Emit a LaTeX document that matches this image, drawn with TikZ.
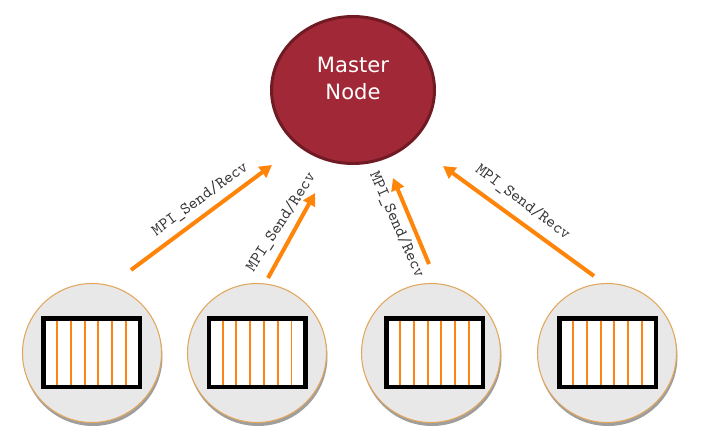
\documentclass[tikz,border=0pt]{standalone}
\usepackage{fontspec}
\setsansfont{DejaVu Sans}
\usetikzlibrary{arrows.meta,shapes.geometric,shadows,calc}
\definecolor{mn_red}{RGB}{161, 40, 54}
\definecolor{mn_dark}{RGB}{112, 26, 36}
\definecolor{wk_fill}{RGB}{232, 232, 232}
\definecolor{wk_edge}{RGB}{226, 166, 92}
\definecolor{msg_orange}{RGB}{255, 133, 10}
\definecolor{strp_orange}{RGB}{250, 132, 20}
\tikzstyle{master}=[ellipse,fill=mn_red,draw=mn_dark,line width=1.7pt,
  minimum width=3.26cm,minimum height=2.94cm,inner sep=0pt]
\tikzstyle{mastertext}=[align=center,text=white,inner sep=0pt,
  font=\sffamily\fontsize{12}{15.3}\selectfont]
\tikzstyle{worker}=[circle,fill=wk_fill,draw=wk_edge,line width=0.6pt,
  minimum size=2.78cm,inner sep=0pt,
  drop shadow={shadow xshift=0.02cm,shadow yshift=-0.07cm,fill=black!38,opacity=1}]
\tikzstyle{block}=[rectangle,fill=white,draw=black,line width=0.09cm,outer sep=0pt,
  minimum width=1.93cm,minimum height=1.37cm,inner sep=0pt]
\tikzstyle{stripe}=[strp_orange,line width=1.1pt,shorten <=0.045cm,shorten >=0.045cm]
\tikzstyle{msg}=[msg_orange,line width=2.3pt,-{Triangle[length=7pt,width=7.5pt]}]
\tikzstyle{msglabel}=[text=black!80,inner sep=0pt,font=\ttfamily\fontsize{9.5}{11}\selectfont]
\tikzstyle{none}=[]

\begin{document}
\begin{tikzpicture}
            \useasboundingbox (0, 0) rectangle (14.06, 8.94);
            \node [style=master] (0) at (7.06, 7.14) {};
            \node [style=mastertext] (21) at (7.06, 7.37) {Master\\Node};
            \node [style=worker] (1) at (1.84, 1.88) {};
            \node [style=worker] (2) at (5.14, 1.88) {};
            \node [style=worker] (3) at (8.62, 1.88) {};
            \node [style=worker] (4) at (12.14, 1.88) {};
            \node [style=block] (5) at (1.83, 1.89) {};
            \node [style=block] (6) at (5.14, 1.89) {};
            \node [style=block] (7) at (8.69, 1.89) {};
            \node [style=block] (8) at (12.15, 1.89) {};
            \foreach \b in {5,...,8}
              \foreach \k in {1,...,6}
                \draw [style=stripe] ($(\b.north west)!\k/7!(\b.north east)$) to ($(\b.south west)!\k/7!(\b.south east)$);
            \coordinate (9) at (2.62, 3.54);
            \coordinate (10) at (5.44, 5.64);
            \coordinate (11) at (5.36, 3.38);
            \coordinate (12) at (6.30, 5.08);
            \coordinate (13) at (8.58, 3.66);
            \coordinate (14) at (7.86, 5.38);
            \coordinate (15) at (11.88, 3.42);
            \coordinate (16) at (8.86, 5.62);
            \draw [style=msg] (9) to (10);
            \draw [style=msg] (11) to (12);
            \draw [style=msg] (13) to (14);
            \draw [style=msg] (15) to (16);
            \node [style=msglabel, rotate=36] (17) at (4.00, 4.96) {MPI\_Send/Recv};
            \node [style=msglabel, rotate=57] (18) at (5.62, 4.50) {MPI\_Send/Recv};
            \node [style=msglabel, rotate=-66] (19) at (7.94, 4.44) {MPI\_Send/Recv};
            \node [style=msglabel, rotate=-37] (20) at (10.46, 4.90) {MPI\_Send/Recv};
    \end{tikzpicture}
\end{document}
